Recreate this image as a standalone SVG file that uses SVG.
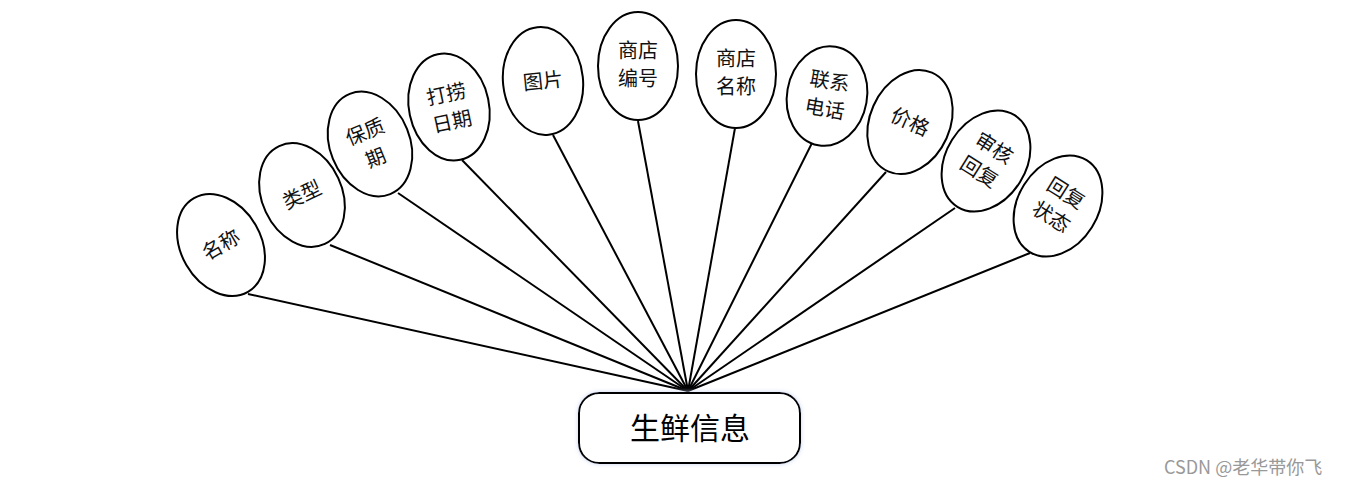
<svg xmlns="http://www.w3.org/2000/svg" width="1351" height="486" viewBox="0 0 1351 486">
<style>
.e{fill:#fff;stroke:#000;stroke-width:2}
.t{font-family:"Noto Sans CJK SC","Noto Sans",sans-serif;font-size:20px;fill:#111;text-anchor:middle}
.c line{stroke:#000;stroke-width:2}
.hub{fill:#fff;stroke:#000;stroke-width:2}
.ht{font-family:"Noto Sans CJK SC","Noto Sans",sans-serif;font-size:30px;fill:#000;text-anchor:middle}
.wm{font-family:"Noto Sans CJK SC","Liberation Sans",sans-serif;font-size:18px;fill:#999}
</style>
<defs>
<filter id="sh" x="-10%" y="-20%" width="120%" height="140%">
<feGaussianBlur in="SourceAlpha" stdDeviation="2"/>
<feFlood flood-color="#c8d4f0"/>
<feComposite operator="in" in2="SourceAlpha"/>
<feGaussianBlur stdDeviation="2"/>
<feMerge><feMergeNode/><feMergeNode in="SourceGraphic"/></feMerge>
</filter>
</defs>
<g class="c" id="connectors">
<line x1="248" y1="294" x2="688" y2="391"/>
<line x1="330" y1="245" x2="688" y2="391"/>
<line x1="398" y1="193" x2="688" y2="391"/>
<line x1="462" y1="160" x2="688" y2="391"/>
<line x1="553" y1="135" x2="688" y2="391"/>
<line x1="638" y1="121" x2="688" y2="391"/>
<line x1="735" y1="128" x2="688" y2="391"/>
<line x1="813" y1="141" x2="688" y2="391"/>
<line x1="886" y1="172" x2="688" y2="391"/>
<line x1="955" y1="208" x2="688" y2="391"/>
<line x1="1030" y1="253" x2="688" y2="391"/>
</g>
<g id="n1" transform="translate(221,245) rotate(-30)">
<ellipse class="e" rx="40" ry="54"/>
<text class="t" y="7">名称</text>
</g>
<g id="n2" transform="translate(302,195) rotate(-25)">
<ellipse class="e" rx="40" ry="54"/>
<text class="t" y="7">类型</text>
</g>
<g id="n3" transform="translate(370,144) rotate(-22)">
<ellipse class="e" rx="40" ry="54"/>
<text class="t" y="-6">保质</text>
<text class="t" y="22">期</text>
</g>
<g id="n4" transform="translate(449,107) rotate(-12)">
<ellipse class="e" rx="40" ry="54"/>
<text class="t" y="-6">打捞</text>
<text class="t" y="22">日期</text>
</g>
<g id="n5" transform="translate(543,81) rotate(-6)">
<ellipse class="e" rx="40" ry="54"/>
<text class="t" y="7">图片</text>
</g>
<g id="n6" transform="translate(638,66)">
<ellipse class="e" rx="40" ry="54"/>
<text class="t" y="-8">商店</text>
<text class="t" y="20">编号</text>
</g>
<g id="n7" transform="translate(736,74)">
<ellipse class="e" rx="40" ry="54"/>
<text class="t" y="-8">商店</text>
<text class="t" y="20">名称</text>
</g>
<g id="n8" transform="translate(827,96) rotate(10)">
<ellipse class="e" rx="40" ry="50"/>
<text class="t" y="-8">联系</text>
<text class="t" y="20">电话</text>
</g>
<g id="n9" transform="translate(910,122) rotate(24)">
<ellipse class="e" rx="40" ry="54"/>
<text class="t" y="7">价格</text>
</g>
<g id="n10" transform="translate(986,161) rotate(32)">
<ellipse class="e" rx="40" ry="54"/>
<text class="t" y="-8">审核</text>
<text class="t" y="20">回复</text>
</g>
<g id="n11" transform="translate(1058,206) rotate(32)">
<ellipse class="e" rx="40" ry="54"/>
<text class="t" y="-8">回复</text>
<text class="t" y="20">状态</text>
</g>
<g id="hub">
<rect class="hub" x="579" y="393" width="221" height="70" rx="20" filter="url(#sh)"/>
<text class="ht" x="690" y="439">生鲜信息</text>
</g>
<text class="wm" x="1164" y="474">CSDN @老华带你飞</text>
</svg>
